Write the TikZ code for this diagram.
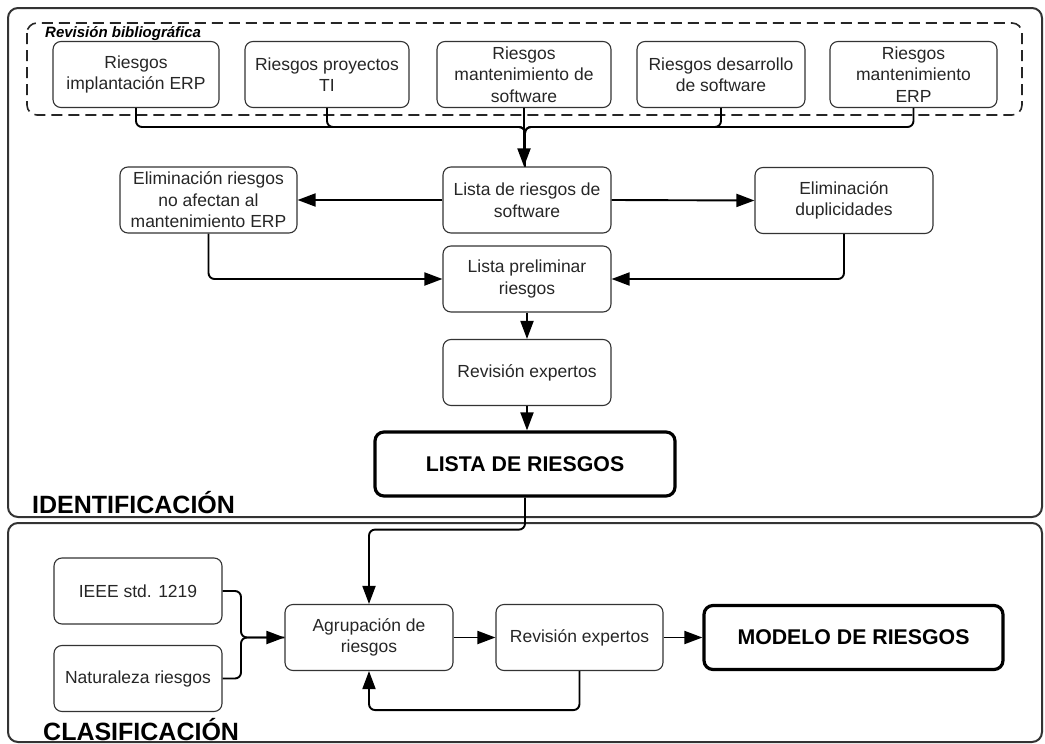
\documentclass[tikz,border=0pt]{standalone}
\usepackage{fontspec}
\setmainfont{Liberation Sans}
\usetikzlibrary{arrows.meta}
\tikzset{
  procbox/.style={draw=black!80, line width=1.1pt, rounded corners=8pt, align=center,
    inner sep=0pt, minimum height=66pt, text=black!85,
    font=\fontsize{17.5}{21.5}\selectfont},
  bigbox/.style={draw=black, line width=3.2pt, rounded corners=9pt, align=center,
    inner sep=0pt, minimum height=64pt, font=\fontsize{21.3}{25}\selectfont\bfseries},
  frame/.style={draw=black!80, line width=2pt, rounded corners=10pt},
  conn/.style={draw=black, line width=1.9pt, rounded corners=6pt},
  arr/.style={conn, -{Triangle[length=18pt,width=13pt]}},
  phase/.style={anchor=base west, inner sep=0pt, font=\fontsize{25}{29}\selectfont\bfseries},
}
\begin{document}
\begin{tikzpicture}[x=1pt,y=-1pt]
\useasboundingbox (0,0) rectangle (1045,744);
% frames
\draw[frame] (8,8) rectangle (1042,517);
\draw[frame] (8,523) rectangle (1042,742);
\draw[black!85, line width=1.6pt, dash pattern=on 11pt off 6pt, rounded corners=10pt] (27,23) rectangle (1022,115);
\node[anchor=base west, inner sep=0pt, font=\fontsize{15}{18}\selectfont\bfseries\itshape] (rb) at (45,37) {Revisión bibliográfica};
\node[phase] (ident) at (32,513) {IDENTIFICACIÓN};
\node[phase] (clas) at (43,740) {CLASIFICACIÓN};
% sources
\node[procbox, minimum width=166pt] (r1) at (136,74.5) {Riesgos\\implantación ERP};
\node[procbox, minimum width=164pt] (r2) at (327,74.5) {Riesgos proyectos\\TI};
\node[procbox, minimum width=174pt] (r3) at (524,74.5) {Riesgos\\mantenimiento de\\software};
\node[procbox, minimum width=168pt] (r4) at (721,74.5) {Riesgos desarrollo\\de software};
\node[procbox, minimum width=167pt] (r5) at (913.5,74.5) {Riesgos\\mantenimiento\\ERP};
% identification flow
\node[procbox, minimum width=168pt] (lista) at (527,200) {Lista de riesgos de\\software};
\node[procbox, minimum width=177pt] (elim) at (208.5,200) {Eliminación riesgos\\no afectan al\\mantenimiento ERP};
\node[procbox, minimum width=178pt] (dup) at (844,200.5) {Eliminación\\duplicidades};
\node[procbox, minimum width=168pt] (prelim) at (527,279) {Lista preliminar\\riesgos};
\node[procbox, minimum width=168pt] (rev1) at (527,372.5) {Revisión expertos};
\node[bigbox, minimum width=300pt] (lr) at (525,464) {LISTA DE RIESGOS};
% classification flow
\node[procbox, minimum width=168pt] (ieee) at (138,591) {IEEE std. 1219};
\node[procbox, minimum width=168pt] (nat) at (138,678.5) {Naturaleza riesgos};
\node[procbox, minimum width=168pt] (agr) at (369,637.5) {Agrupación de\\riesgos};
\node[procbox, minimum width=167pt] (rev2) at (579.5,637.5) {Revisión expertos};
\node[bigbox, minimum width=299pt] (mod) at (853.5,637.5) {MODELO DE RIESGOS};
% connectors top
\coordinate (j) at (525,127);
\draw[conn] (r1.south) |- (j) -- (j |- lista.north);
\draw[conn] (r2.south) |- (j) -- (j |- lista.north);
\draw[conn] (r4.south) |- (j) -- (j |- lista.north);
\draw[conn] (r5.south) |- (j) -- (j |- lista.north);
\draw[arr] (r3.south) -- (r3.south |- lista.north);
\draw[arr] (lista.west) -- (elim.east);
\draw[arr] (lista.east) -- (dup.west);
\draw[arr] (elim.south) |- (prelim.west);
\draw[arr] (dup.south) |- (prelim.east);
\draw[arr] (prelim.south) -- (rev1.north);
\draw[arr] (rev1.south) -- (rev1.south |- lr.north);
% connectors bottom
\draw[arr] (lr.south) -- ++(0,32) -| (agr.north);
\coordinate (b) at (241,637.5);
\draw[conn] (ieee.east) -| (b) -- (agr.west);
\draw[arr] (nat.east) -| (b) -- (agr.west);
\draw[arr] (agr.east) -- (rev2.west);
\draw[arr] (rev2.east) -- (mod.west);
\draw[arr] (rev2.south) -- ++(0,39) -| (agr.south);
\end{tikzpicture}
\end{document}
